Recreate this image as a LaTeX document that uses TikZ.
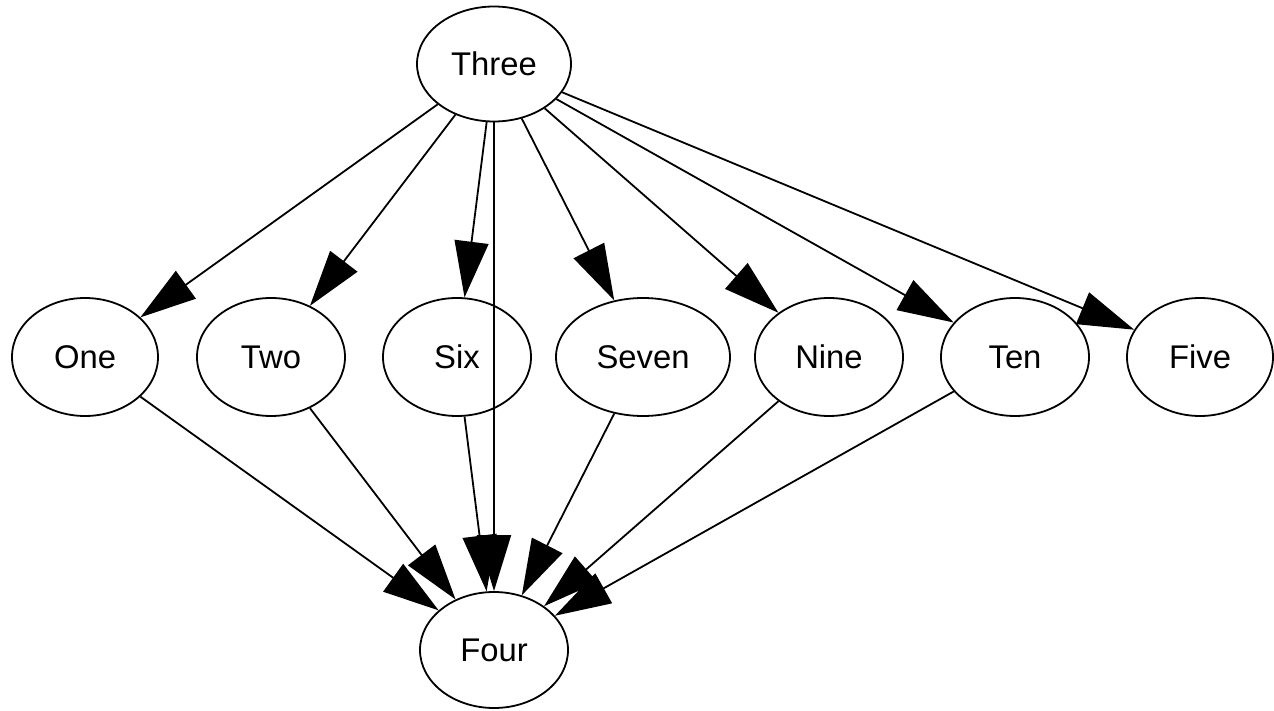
\documentclass[tikz,border=0pt]{standalone}
\usepackage{fontspec}
\setmainfont{Liberation Sans}
\usetikzlibrary{shapes.geometric,arrows.meta}
\begin{document}
\begin{tikzpicture}[x=0.5pt,y=-0.5pt,
  vertex/.style={draw, ellipse, line width=0.9pt, inner sep=0pt,
    minimum width=74pt, minimum height=59pt,
    font=\fontsize{16.4}{19}\selectfont},
  edge/.style={line width=0.9pt,
    -{Triangle[length=28pt,width=17pt]}}]
  % canvas
  \fill[white] (0,0) rectangle (1274,711);
  \useasboundingbox (0,0) rectangle (1274,711);

  % top
  \node[vertex, minimum width=77pt, minimum height=57.5pt] (three) at (494,64) {Three};

  % middle row
  \node[vertex, minimum width=73pt] (one)   at (85,357)   {One};
  \node[vertex]                     (two)   at (271,357)  {Two};
  \node[vertex]                     (six)   at (457,357)  {Six};
  \node[vertex, minimum width=87pt] (seven) at (643,357)  {Seven};
  \node[vertex]                     (nine)  at (829,357)  {Nine};
  \node[vertex]                     (ten)   at (1015,357) {Ten};
  \node[vertex, minimum width=73pt] (five)  at (1200,357) {Five};

  % bottom
  \node[vertex, minimum height=58pt] (four) at (494,650) {Four};

  % edges from Three
  \foreach \t in {one,two,six,seven,nine,ten,five,four}
    \draw[edge] (three) -- (\t);

  % edges into Four
  \foreach \s in {one,two,six,seven,nine,ten}
    \draw[edge] (\s) -- (four);
\end{tikzpicture}
\end{document}
